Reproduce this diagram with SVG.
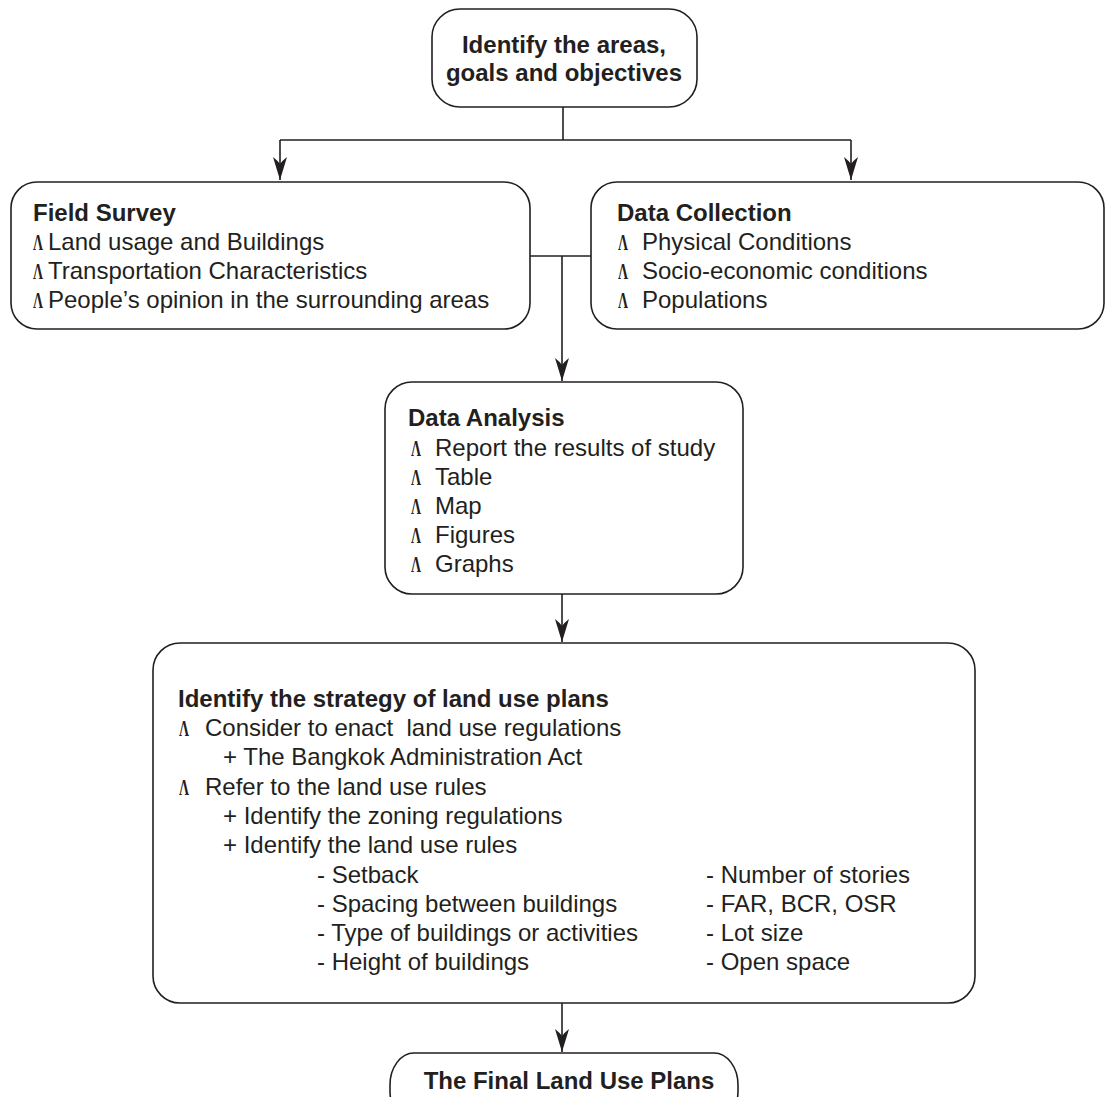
<svg xmlns="http://www.w3.org/2000/svg" width="1105" height="1097" viewBox="0 0 1105 1097">
<style>
.box{fill:#fff;stroke:#231f20;stroke-width:1.6}
.ln{fill:none;stroke:#231f20;stroke-width:1.6}
text{font-family:"Liberation Sans",Arial,Helvetica,sans-serif;font-size:24px;fill:#231f20}
.b{font-weight:bold}
.bu{font-family:"Liberation Serif","Times New Roman",serif;font-size:24px;font-weight:bold}
</style>
<defs>
<marker id="ah" markerUnits="userSpaceOnUse" markerWidth="26" markerHeight="16" refX="0" refY="0" viewBox="-24 -8 26 16" orient="auto">
<path d="M0,0 L-23,-7 Q-19,-2 -16,0 Q-19,2 -23,7 Z" fill="#231f20"/>
</marker>
</defs>
<g id="connectors">
<path class="ln" d="M563,107 V140"/>
<path class="ln" d="M280,140 H851"/>
<path class="ln" d="M280,140 V180" marker-end="url(#ah)"/>
<path class="ln" d="M851,140 V180" marker-end="url(#ah)"/>
<path class="ln" d="M530,256 H591"/>
<path class="ln" d="M562,256 V381" marker-end="url(#ah)"/>
<path class="ln" d="M562,594 V642" marker-end="url(#ah)"/>
<path class="ln" d="M562,1003 V1052" marker-end="url(#ah)"/>
</g>
<g id="node-identify-areas">
<rect class="box" x="432" y="9" width="265" height="98" rx="28"/>
<text class="b" x="564" y="53" text-anchor="middle">Identify the areas,</text>
<text class="b" x="564" y="81" text-anchor="middle">goals and objectives</text>
</g>
<g id="node-field-survey">
<rect class="box" x="11" y="182" width="519" height="147" rx="26"/>
<text class="b" x="33" y="221">Field Survey</text>
<text class="bu" x="33" y="250" textLength="10" lengthAdjust="spacingAndGlyphs">Λ</text>
<text x="48" y="250">Land usage and Buildings</text>
<text class="bu" x="33" y="279" textLength="10" lengthAdjust="spacingAndGlyphs">Λ</text>
<text x="48" y="279">Transportation Characteristics</text>
<text class="bu" x="33" y="308" textLength="10" lengthAdjust="spacingAndGlyphs">Λ</text>
<text x="48" y="308">People’s opinion in the surrounding areas</text>
</g>
<g id="node-data-collection">
<rect class="box" x="591" y="182" width="513" height="147" rx="26"/>
<text class="b" x="617" y="221">Data Collection</text>
<text class="bu" x="618" y="250" textLength="10" lengthAdjust="spacingAndGlyphs">Λ</text>
<text x="642" y="250">Physical Conditions</text>
<text class="bu" x="618" y="279" textLength="10" lengthAdjust="spacingAndGlyphs">Λ</text>
<text x="642" y="279">Socio-economic conditions</text>
<text class="bu" x="618" y="308" textLength="10" lengthAdjust="spacingAndGlyphs">Λ</text>
<text x="642" y="308">Populations</text>
</g>
<g id="node-data-analysis">
<rect class="box" x="385" y="382" width="358" height="212" rx="27"/>
<text class="b" x="408" y="426">Data Analysis</text>
<text class="bu" x="411" y="456" textLength="10" lengthAdjust="spacingAndGlyphs">Λ</text>
<text x="435" y="456">Report the results of study</text>
<text class="bu" x="411" y="485" textLength="10" lengthAdjust="spacingAndGlyphs">Λ</text>
<text x="435" y="485">Table</text>
<text class="bu" x="411" y="514" textLength="10" lengthAdjust="spacingAndGlyphs">Λ</text>
<text x="435" y="514">Map</text>
<text class="bu" x="411" y="543" textLength="10" lengthAdjust="spacingAndGlyphs">Λ</text>
<text x="435" y="543">Figures</text>
<text class="bu" x="411" y="572" textLength="10" lengthAdjust="spacingAndGlyphs">Λ</text>
<text x="435" y="572">Graphs</text>
</g>
<g id="node-strategy">
<rect class="box" x="153" y="643" width="822" height="360" rx="27"/>
<text class="b" x="178" y="707">Identify the strategy of land use plans</text>
<text class="bu" x="179" y="736" textLength="10" lengthAdjust="spacingAndGlyphs">Λ</text>
<text x="205" y="736" xml:space="preserve">Consider to enact  land use regulations</text>
<text x="223" y="765">+ The Bangkok Administration Act</text>
<text class="bu" x="179" y="795" textLength="10" lengthAdjust="spacingAndGlyphs">Λ</text>
<text x="205" y="795">Refer to the land use rules</text>
<text x="223" y="824">+ Identify the zoning regulations</text>
<text x="223" y="853">+ Identify the land use rules</text>
<text x="317" y="883">- Setback</text>
<text x="317" y="912">- Spacing between buildings</text>
<text x="317" y="941">- Type of buildings or activities</text>
<text x="317" y="970">- Height of buildings</text>
<text x="706" y="883">- Number of stories</text>
<text x="706" y="912">- FAR, BCR, OSR</text>
<text x="706" y="941">- Lot size</text>
<text x="706" y="970">- Open space</text>
</g>
<g id="node-final">
<rect class="box" x="390" y="1053" width="348" height="70" rx="24" ry="32"/>
<text class="b" x="569" y="1089" text-anchor="middle">The Final Land Use Plans</text>
</g>
</svg>
